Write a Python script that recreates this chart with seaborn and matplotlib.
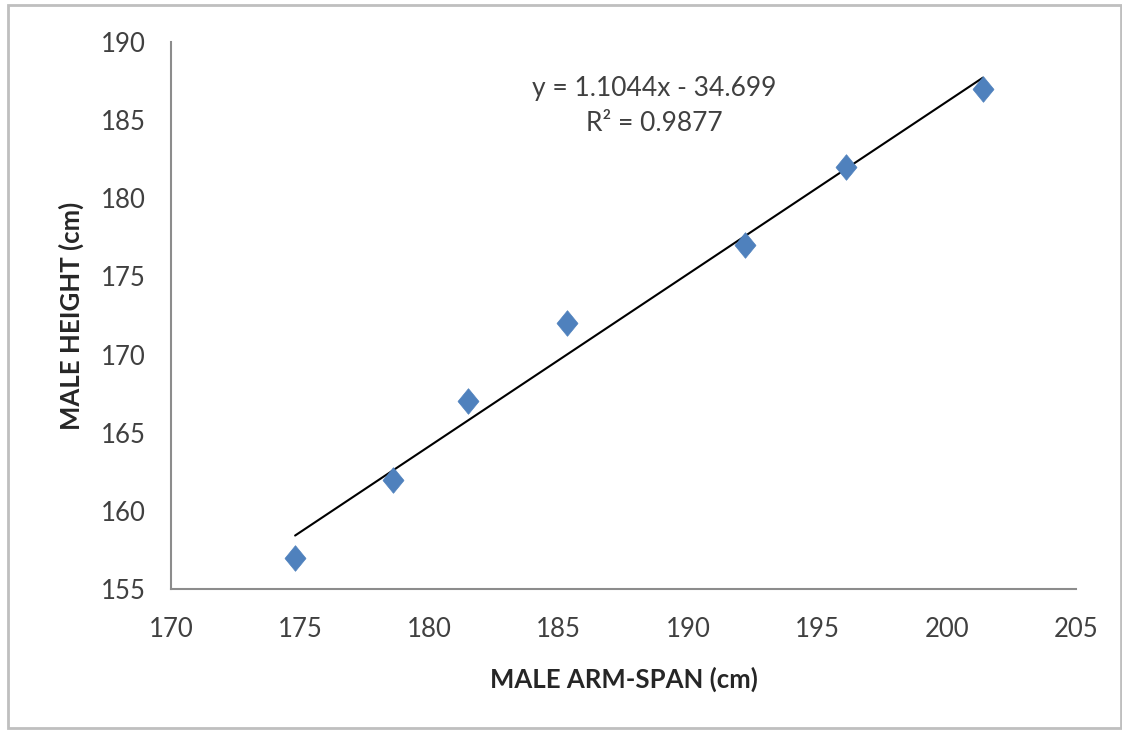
import matplotlib
matplotlib.use("Agg")
import matplotlib.pyplot as plt
import seaborn as sns
import pandas as pd
from matplotlib.path import Path
from matplotlib.patches import Rectangle

# data
arm_span = [174.8, 178.6, 181.5, 185.3, 192.2, 196.1, 201.4]
height = [157, 162, 167, 172, 177, 182, 187]
eq_text = "y = 1.1044x - 34.699"
r2_text = "R\u00b2 = 0.9877"
x_ticks = [170, 175, 180, 185, 190, 195, 200, 205]
y_ticks = [155, 160, 165, 170, 175, 180, 185, 190]

df = pd.DataFrame({"arm": arm_span, "height": height})

sns.set_style("white")
plt.rcParams["font.family"] = ["Lato", "DejaVu Sans"]

fig = plt.figure(figsize=(11.22, 7.31), dpi=100)
ax = fig.add_axes([0.1524, 0.1943, 0.8066, 0.7482])

# excel-ish diamond, a bit taller than wide
diamond = Path([(0, 1), (0.82, 0), (0, -1), (-0.82, 0), (0, 1)],
               [Path.MOVETO, Path.LINETO, Path.LINETO, Path.LINETO, Path.CLOSEPOLY])

sns.regplot(data=df, x="arm", y="height", ax=ax, ci=None, scatter=False,
            truncate=True, line_kws={"color": "black", "lw": 1.5, "zorder": 2})
sns.scatterplot(data=df, x="arm", y="height", ax=ax, marker=diamond, s=340,
                color="#4F81BD", edgecolor="#4F81BD", linewidth=0.5, zorder=3)

ax.set_xlim(170, 205)
ax.set_ylim(155, 190)
ax.set_xticks(x_ticks)
ax.set_yticks(y_ticks)

ax.text(188.7, 187.05, eq_text, ha="center", va="center", fontsize=19, color="#404040")
ax.text(188.7, 184.8, r2_text, ha="center", va="center", fontsize=19, color="#404040")

ax.set_xlabel("MALE ARM-SPAN (cm)", fontsize=18.5, fontweight="bold", color="#262626", labelpad=18)
ax.set_ylabel("MALE HEIGHT (cm)", fontsize=18.5, fontweight="bold", color="#262626", labelpad=12)

for side in ["top", "right"]:
    ax.spines[side].set_visible(False)
for side in ["left", "bottom"]:
    ax.spines[side].set_color("#8C8C8C")
    ax.spines[side].set_linewidth(1.5)

ax.tick_params(axis="both", direction="out", length=6, width=1.3, color="#8C8C8C",
               labelsize=18.5, labelcolor="#404040", pad=14)
ax.tick_params(axis="y", pad=12)

# outer chart border
fig.patches.append(Rectangle((0.007, 0.004), 0.992, 0.989, transform=fig.transFigure,
                             fill=False, edgecolor="#BFBFBF", lw=2.0))

fig.savefig("out.png", dpi=100)
